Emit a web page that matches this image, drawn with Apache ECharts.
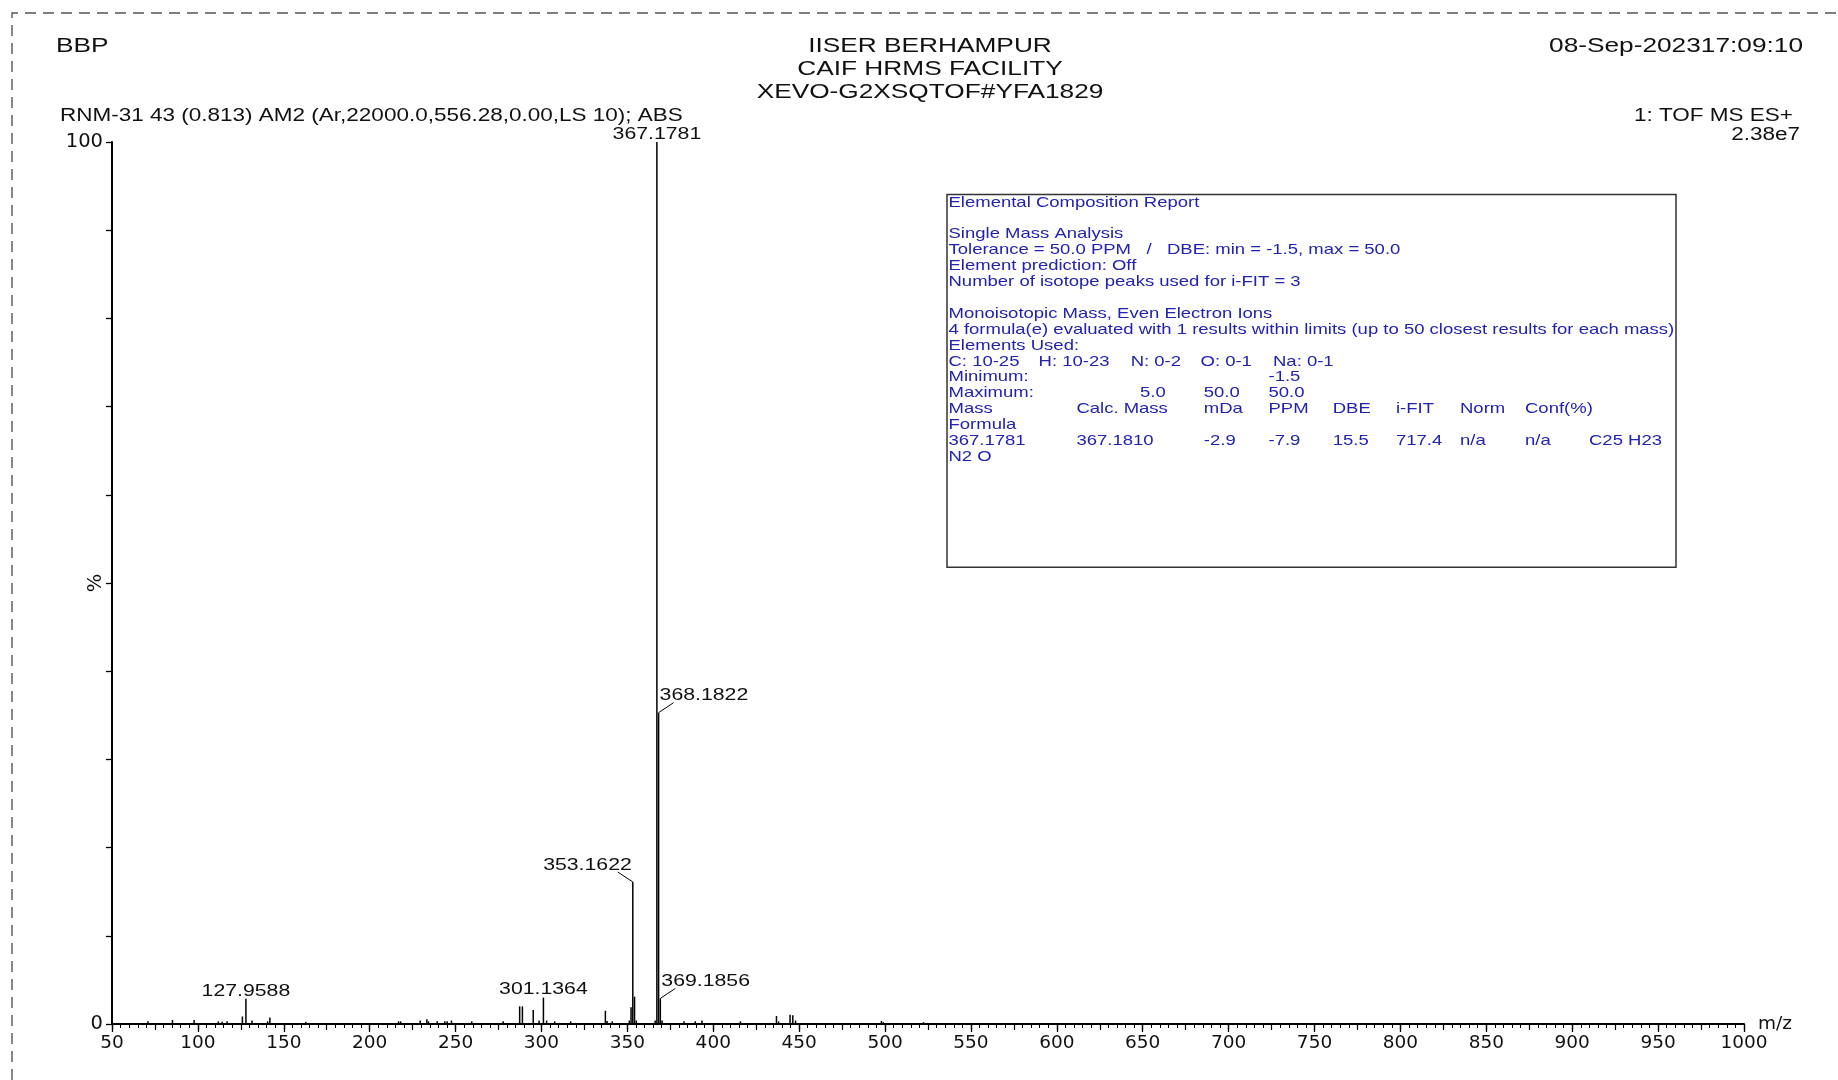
<!DOCTYPE html>
<html>
<head>
<meta charset="utf-8">
<script src="https://cdn.jsdelivr.net/npm/echarts@6/dist/echarts.min.js"></script>
<style>html,body{margin:0;padding:0;background:#fff}#c{width:1838px;height:1080px}</style>
</head>
<body>
<div id="c"></div>
<script>
// ---------------- DATA ----------------
// labelled peaks (m/z, relative intensity %)
const labelMz  = [127.9588, 301.1364, 353.1622, 367.1781, 368.1822, 369.1856];
const labelPct = [2.85, 3.0, 16.1, 100, 35.3, 2.9];
// other (unlabelled) peaks
const minorMz  = [70.9, 85.2, 97.8, 111.9, 114.1, 117.0, 125.9, 131.5, 140.6, 141.9, 162.8,
                  216.8, 218.0, 229.4, 233.3, 234.2, 239.3, 243.7, 245.1, 247.6, 259.4, 277.7,
                  287.3, 288.9, 295.2, 298.6, 303.0, 307.7, 317.0, 337.2, 338.2, 341.2,
                  351.14, 352.15, 354.17, 355.2, 366.2, 370.2, 383.0, 389.5, 393.4, 415.8,
                  436.8, 438.0, 444.7, 446.3, 447.9, 497.9, 499.0, 522.4];
const minorPct = [0.3, 0.45, 0.45, 0.3, 0.25, 0.3, 0.85, 0.4, 0.3, 0.75, 0.25,
                  0.3, 0.3, 0.4, 0.55, 0.3, 0.3, 0.3, 0.3, 0.4, 0.3, 0.3,
                  2.0, 2.0, 1.6, 0.4, 0.4, 0.3, 0.3, 1.5, 0.35, 0.3,
                  0.4, 1.9, 3.1, 0.4, 0.4, 0.4, 0.3, 0.3, 0.4, 0.3,
                  0.9, 0.3, 1.05, 1.0, 0.4, 0.35, 0.2, 0.2];
// axis ranges / tick labels
const xRange = [50, 1000];
const xStep = 50;
const yRange = [0, 100];
const yStep = 10;
const yShownLabels = [0, 100];

// header texts
const headerLeft = 'BBP';
const headerCenter = ['IISER BERHAMPUR', 'CAIF HRMS FACILITY', 'XEVO-G2XSQTOF#YFA1829'];
const headerRight = '08-Sep-202317:09:10';
const scanInfo = 'RNM-31 43 (0.813) AM2 (Ar,22000.0,556.28,0.00,LS 10); ABS';
const funcInfo = '1: TOF MS ES+';
const basePeakIntensity = '2.38e7';

// report rows: [columnKey, text]
const reportRows = [
  [['a', 'Elemental Composition Report']],
  [],
  [['a', 'Single Mass Analysis']],
  [['a', 'Tolerance = 50.0 PPM   /   DBE: min = -1.5, max = 50.0']],
  [['a', 'Element prediction: Off']],
  [['a', 'Number of isotope peaks used for i-FIT = 3']],
  [],
  [['a', 'Monoisotopic Mass, Even Electron Ions']],
  [['a', '4 formula(e) evaluated with 1 results within limits (up to 50 closest results for each mass)']],
  [['a', 'Elements Used:']],
  [['a', 'C: 10-25'], ['h', 'H: 10-23'], ['n', 'N: 0-2'], ['o', 'O: 0-1'], ['na', 'Na: 0-1']],
  [['a', 'Minimum:'], ['ppm', '-1.5']],
  [['a', 'Maximum:'], ['max', '5.0'], ['mda', '50.0'], ['ppm', '50.0']],
  [['a', 'Mass'], ['calc', 'Calc. Mass'], ['mda', 'mDa'], ['ppm', 'PPM'], ['dbe', 'DBE'], ['ifit', 'i-FIT'], ['norm', 'Norm'], ['conf', 'Conf(%)']],
  [['a', 'Formula']],
  [['a', '367.1781'], ['calc', '367.1810'], ['mda', '-2.9'], ['ppm', '-7.9'], ['dbe', '15.5'], ['ifit', '717.4'], ['norm', 'n/a'], ['conf', 'n/a'], ['form', 'C25 H23']],
  [['a', 'N2 O']]
];

// ---------------- STYLE / LAYOUT ----------------
const SX = 1.25;                 // horizontal stretch of the original print
const FONT = '"Liberation Sans", Arial, sans-serif';
const AXFONT = '"DejaVu Sans", sans-serif';
const INK = '#111';
const BLUE = '#2222b0';
const labelSide = ['top', 'top', 'left', 'top', 'right', 'right'];
const reportBox = { x: 947, y: 194.6, w: 729, h: 372.7, line0: 202.5, step: 15.9, fontSize: 14.8 };
const reportCol = { a: 1.5, h: 91.6, calc: 129.4, n: 183.7, max: 193, o: 253.5, mda: 256.8,
                    ppm: 321.5, na: 326, dbe: 385.7, ifit: 449, norm: 513, conf: 578, form: 642 };

function txt(x, y, text, size, align, color, family) {
  return {
    type: 'text', x: x, y: y, scaleX: SX, z: 10,
    style: {
      text: text, fontSize: size, fontFamily: family || FONT, fill: color || INK,
      textAlign: align, align: align, textVerticalAlign: 'middle', verticalAlign: 'middle'
    }
  };
}

const graphics = [];
// dashed frame
graphics.push({
  type: 'polyline', z: 1,
  shape: { points: [[12, 1080], [12, 13], [1838, 13]] },
  style: { stroke: '#555', lineWidth: 1.4, lineDash: [11, 7], fill: null }
});
// header
graphics.push(txt(56, 46.5, headerLeft, 21, 'left'));
headerCenter.forEach(function (t, i) { graphics.push(txt(930, 46.5 + i * 22.9, t, 21, 'center')); });
graphics.push(txt(1803, 46.5, headerRight, 21, 'right'));
graphics.push(txt(60, 116, scanInfo, 18, 'left'));
graphics.push(txt(1793, 116, funcInfo, 18, 'right'));
graphics.push(txt(1800, 135, basePeakIntensity, 18, 'right'));
// report box
graphics.push({
  type: 'rect', z: 5,
  shape: { x: reportBox.x, y: reportBox.y, width: reportBox.w, height: reportBox.h },
  style: { fill: '#fff', stroke: '#333', lineWidth: 1.5 }
});
reportRows.forEach(function (row, r) {
  row.forEach(function (cell) {
    graphics.push(txt(reportBox.x + reportCol[cell[0]], reportBox.line0 + r * reportBox.step,
      cell[1], reportBox.fontSize, 'left', BLUE));
  });
});

// ---------------- SERIES ----------------
const stickData = [];
minorMz.forEach(function (m, i) { stickData.push([m, minorPct[i]]); });
labelMz.forEach(function (m, i) { stickData.push([m, labelPct[i]]); });
const labelData = labelMz.map(function (m, i) { return [m, labelPct[i], i]; });

function renderStick(params, api) {
  const p0 = api.coord([api.value(0), 0]);
  const p1 = api.coord([api.value(0), api.value(1)]);
  return {
    type: 'line',
    shape: { x1: p0[0], y1: p0[1], x2: p1[0], y2: p1[1] },
    style: { stroke: '#000', lineWidth: 1.5 }
  };
}

function renderLabel(params, api) {
  const mz = api.value(0);
  const idx = api.value(2);
  const p = api.coord([mz, api.value(1)]);
  const side = labelSide[idx];
  const text = mz.toFixed(4);
  const children = [];
  const base = { fontSize: 17, fontFamily: FONT, fill: INK };
  if (side === 'top') {
    children.push({
      type: 'text', x: p[0], y: p[1] - 8, scaleX: SX,
      style: Object.assign({ text: text, textAlign: 'center', align: 'center',
        textVerticalAlign: 'middle', verticalAlign: 'middle' }, base)
    });
  } else {
    const dir = side === 'right' ? 1 : -1;
    children.push({
      type: 'line',
      shape: { x1: p[0], y1: p[1], x2: p[0] + dir * 15, y2: p[1] - 10 },
      style: { stroke: '#000', lineWidth: 1 }
    });
    children.push({
      type: 'text', x: p[0] + dir * 1, y: p[1] - 17, scaleX: SX,
      style: Object.assign({ text: text, textAlign: side === 'right' ? 'left' : 'right',
        align: side === 'right' ? 'left' : 'right',
        textVerticalAlign: 'middle', verticalAlign: 'middle' }, base)
    });
  }
  return { type: 'group', children: children };
}

const chart = echarts.init(document.getElementById('c'), null, { renderer: 'canvas' });
chart.setOption({
  backgroundColor: '#fff',
  animation: false,
  grid: { left: 112, right: 94, top: 142, bottom: 56 },
  xAxis: [{
    type: 'value', min: xRange[0], max: xRange[1], interval: xStep, position: 'bottom',
    axisLine: { show: true, onZero: false, lineStyle: { color: '#000', width: 2 } },
    axisTick: { show: true, length: 8, lineStyle: { color: '#000', width: 1.3 } },
    minorTick: { show: true, splitNumber: 10, length: 4, lineStyle: { color: '#000', width: 1 } },
    axisLabel: { fontSize: 18.5, fontFamily: AXFONT, color: INK, margin: 10,
      formatter: function (v) { return String(v); } },
    splitLine: { show: false }, minorSplitLine: { show: false },
    name: 'm/z', nameLocation: 'end', nameGap: 14, nameMoveOverlap: false,
    nameTextStyle: { fontSize: 18.5, fontFamily: AXFONT, color: INK, verticalAlign: 'middle', padding: [7, 0, 0, 0] }
  }, {
    type: 'value', min: xRange[0], max: xRange[1], interval: xStep / 2, position: 'bottom',
    axisLine: { show: false }, axisLabel: { show: false },
    axisTick: { show: true, length: 6, lineStyle: { color: '#000', width: 1.2 } },
    splitLine: { show: false }
  }],
  yAxis: {
    type: 'value', min: yRange[0], max: yRange[1], interval: yStep,
    axisLine: { show: true, lineStyle: { color: '#000', width: 2 } },
    axisTick: { show: true, length: 6, lineStyle: { color: '#000', width: 1.3 } },
    axisLabel: {
      fontSize: 19.5, fontFamily: AXFONT, color: INK, margin: 9,
      formatter: function (v) { return yShownLabels.indexOf(v) >= 0 ? String(v) : ''; }
    },
    splitLine: { show: false },
    name: '%', nameLocation: 'middle', nameGap: 6, nameRotate: 90, nameMoveOverlap: false,
    nameTextStyle: { fontSize: 19.5, fontFamily: AXFONT, color: INK }
  },
  graphic: graphics,
  series: [{
    type: 'custom', name: 'spectrum', renderItem: renderStick,
    data: stickData, encode: { x: 0, y: 1 }, silent: true, z: 3
  }, {
    type: 'custom', name: 'labels', renderItem: renderLabel,
    data: labelData, encode: { x: 0, y: 1 }, silent: true, z: 4
  }]
});
</script>
</body>
</html>
